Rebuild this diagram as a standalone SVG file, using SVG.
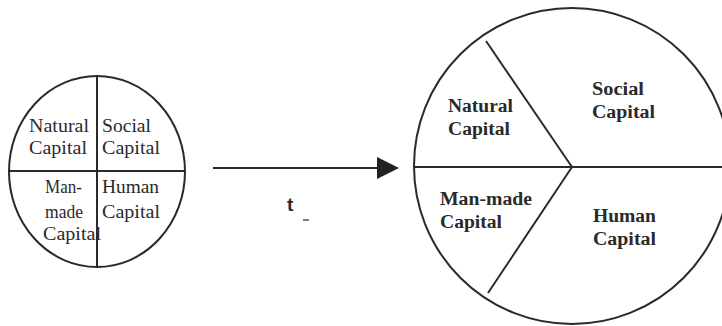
<svg xmlns="http://www.w3.org/2000/svg" width="722" height="326" viewBox="0 0 722 326">
  <style>
    .line { fill: none; stroke: #2a2a2a; stroke-width: 2; }
    .small { font-family: "Liberation Serif", "Times New Roman", serif; font-size: 19.5px; fill: #2a2a2a; }
    .big { font-family: "Liberation Serif", "Times New Roman", serif; font-size: 18.5px; font-weight: bold; fill: #2a2a2a; }
    .lbl { font-family: "Liberation Sans", Arial, sans-serif; font-size: 19px; font-weight: bold; fill: #2a2a2a; }
  </style>
  <defs>
    <marker id="arrowhead" markerWidth="22" markerHeight="22" refX="0" refY="11" orient="auto" markerUnits="userSpaceOnUse">
      <path d="M0,0 L22,11 L0,22 Z" fill="#222"/>
    </marker>
  </defs>
  <rect width="722" height="326" fill="#ffffff"/>

  <!-- Initial capital stock: four equal quadrants -->
  <g id="stock-before">
    <ellipse class="line" cx="97" cy="171.5" rx="88" ry="95.5"/>
    <line class="line" x1="97" y1="76" x2="97" y2="267"/>
    <line class="line" x1="9" y1="171" x2="185" y2="171"/>
    <text class="small" x="29" y="132" textLength="60" lengthAdjust="spacingAndGlyphs">Natural</text>
    <text class="small" x="29" y="154" textLength="58" lengthAdjust="spacingAndGlyphs">Capital</text>
    <text class="small" x="102" y="132" textLength="49" lengthAdjust="spacingAndGlyphs">Social</text>
    <text class="small" x="102" y="154" textLength="58" lengthAdjust="spacingAndGlyphs">Capital</text>
    <text class="small" x="45" y="193" textLength="37" lengthAdjust="spacingAndGlyphs">Man-</text>
    <text class="small" x="45" y="218" textLength="38" lengthAdjust="spacingAndGlyphs">made</text>
    <text class="small" x="43" y="240" textLength="58" lengthAdjust="spacingAndGlyphs">Capital</text>
    <text class="small" x="102" y="193" textLength="57" lengthAdjust="spacingAndGlyphs">Human</text>
    <text class="small" x="102" y="218" textLength="58" lengthAdjust="spacingAndGlyphs">Capital</text>
  </g>

  <!-- Transition over time -->
  <g id="connectors">
    <line class="line" x1="213" y1="168" x2="377" y2="168" marker-end="url(#arrowhead)"/>
    <text class="lbl" x="287" y="211">t</text>
    <line x1="303" y1="220" x2="309" y2="220" stroke="#555" stroke-width="1.5"/>
  </g>

  <!-- Later capital stock: unequal sectors -->
  <g id="stock-after">
    <circle class="line" cx="572" cy="166" r="158"/>
    <line class="line" x1="414" y1="167" x2="722" y2="167"/>
    <line class="line" x1="486" y1="41" x2="572" y2="167"/>
    <line class="line" x1="572" y1="167" x2="488" y2="293"/>
    <text class="big" x="448" y="112" textLength="65" lengthAdjust="spacingAndGlyphs">Natural</text>
    <text class="big" x="448" y="135" textLength="62" lengthAdjust="spacingAndGlyphs">Capital</text>
    <text class="big" x="592" y="95" textLength="52" lengthAdjust="spacingAndGlyphs">Social</text>
    <text class="big" x="592" y="118" textLength="63" lengthAdjust="spacingAndGlyphs">Capital</text>
    <text class="big" x="440" y="205" textLength="92" lengthAdjust="spacingAndGlyphs">Man-made</text>
    <text class="big" x="440" y="228" textLength="62" lengthAdjust="spacingAndGlyphs">Capital</text>
    <text class="big" x="593" y="222" textLength="63" lengthAdjust="spacingAndGlyphs">Human</text>
    <text class="big" x="593" y="245" textLength="63" lengthAdjust="spacingAndGlyphs">Capital</text>
  </g>
</svg>
